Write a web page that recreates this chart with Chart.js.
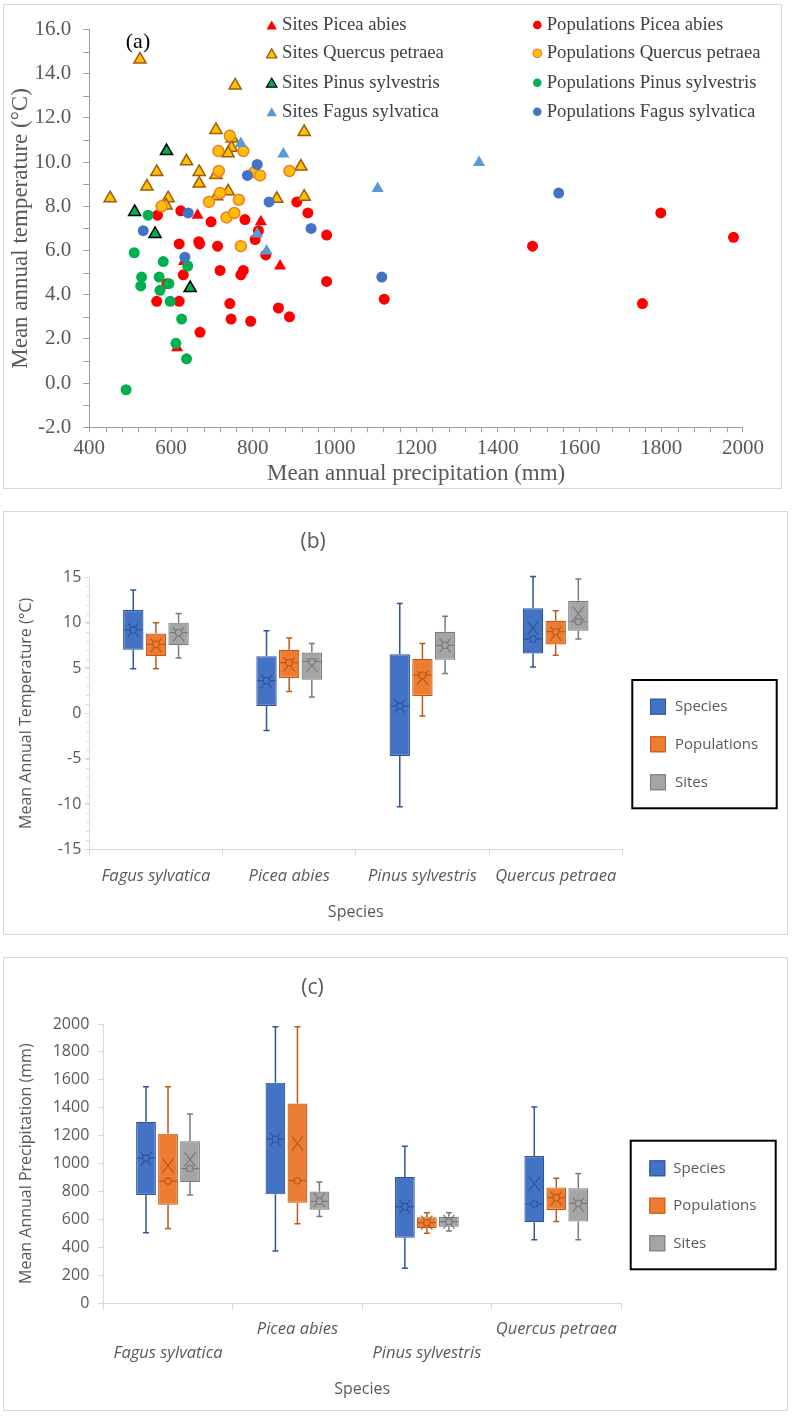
<!DOCTYPE html>
<html><head><meta charset="utf-8">
<script src="https://cdn.jsdelivr.net/npm/chart.js@4.4.1/dist/chart.umd.min.js"></script>
<style>
html,body{margin:0;padding:0;background:#fff;}
body{width:796px;height:1419px;position:relative;overflow:hidden;}
.frame{position:absolute;border:1px solid #d9d9d9;box-sizing:border-box;background:#fff;}
canvas{display:block;}
</style></head><body>
<div class="frame" style="left:3px;top:4px;width:779px;height:485px;"><canvas id="ca" width="777" height="483" style="width:777px;height:483px"></canvas></div>
<div class="frame" style="left:3px;top:511px;width:785px;height:424px;"><canvas id="cb" width="783" height="422" style="width:783px;height:422px"></canvas></div>
<div class="frame" style="left:3px;top:957px;width:785px;height:454px;"><canvas id="cc" width="783" height="452" style="width:783px;height:452px"></canvas></div>
<script>
// ---------------- DATA: chart (a) scatter ----------------
const sitesPiceaP = [665, 820, 867, 615, 632];
const sitesPiceaT = [7.6, 7.3, 5.3, 1.6, 5.5];
const popPiceaP = [567, 624, 698, 781, 908, 935, 981, 620, 668, 670, 714, 806, 814, 832, 720, 777, 771, 630, 565, 620, 744, 747, 795, 863, 890, 671, 981, 1122, 590, 1485, 1799, 1977, 1754];
const popPiceaT = [7.6, 7.8, 7.3, 7.4, 8.2, 7.7, 6.7, 6.3, 6.4, 6.3, 6.2, 6.5, 6.9, 5.8, 5.1, 5.1, 4.9, 4.9, 3.7, 3.7, 3.6, 2.9, 2.8, 3.4, 3.0, 2.3, 4.6, 3.8, 4.5, 6.2, 7.7, 6.6, 3.6];
const sitesQuercusP = [524, 757, 710, 926, 750, 748, 740, 638, 565, 669, 710, 918, 541, 669, 712, 740, 859, 926, 451, 593, 588];
const sitesQuercusT = [14.65, 13.47, 11.46, 11.37, 11.07, 10.65, 10.4, 10.04, 9.56, 9.56, 9.42, 9.8, 8.9, 9.03, 8.46, 8.68, 8.34, 8.44, 8.37, 8.37, 8.04];
const popQuercusP = [744, 716, 777, 717, 804, 818, 890, 720, 693, 766, 577, 736, 755, 771];
const popQuercusT = [11.2, 10.5, 10.5, 9.6, 9.55, 9.4, 9.6, 8.6, 8.2, 8.3, 8.0, 7.5, 7.7, 6.2];
const sitesPinusP = [589, 511, 561, 647];
const sitesPinusT = [10.5, 7.75, 6.75, 4.3];
const popPinusP = [544, 510, 581, 641, 528, 571, 526, 595, 573, 598, 626, 612, 638, 490];
const popPinusT = [7.6, 5.9, 5.5, 5.3, 4.8, 4.8, 4.4, 4.5, 4.2, 3.7, 2.9, 1.8, 1.1, -0.3];
const sitesFagusP = [771, 875, 1106, 1354, 811, 834];
const sitesFagusT = [10.85, 10.37, 8.81, 9.99, 6.75, 5.98];
const popFagusP = [532, 642, 787, 811, 840, 943, 634, 1116, 1549];
const popFagusT = [6.9, 7.7, 9.4, 9.9, 8.2, 7.0, 5.7, 4.8, 8.6];

// ---------------- DATA: charts (b) and (c) box plots ----------------
const speciesNames = ['Fagus sylvatica', 'Picea abies', 'Pinus sylvestris', 'Quercus petraea'];
const groupNames = ['Species', 'Populations', 'Sites'];

// (b) Mean annual temperature
const tempSpeciesMin  = [4.9, -1.9, -10.3, 5.1];
const tempSpeciesQ1   = [7.0, 0.8, -4.7, 6.6];
const tempSpeciesMed  = [9.2, 3.6, 0.8, 8.2];
const tempSpeciesQ3   = [11.4, 6.3, 6.5, 11.6];
const tempSpeciesMax  = [13.6, 9.1, 12.1, 15.1];
const tempSpeciesMean = [9.2, 3.5, 0.8, 9.4];
const tempPopMin  = [4.9, 2.4, -0.3, 6.4];
const tempPopQ1   = [6.3, 3.9, 1.9, 7.6];
const tempPopMed  = [7.6, 5.6, 4.2, 9.0];
const tempPopQ3   = [8.8, 7.0, 6.0, 10.2];
const tempPopMax  = [10.0, 8.3, 7.7, 11.3];
const tempPopMean = [7.5, 5.4, 3.9, 8.8];
const tempSitesMin  = [6.1, 1.8, 4.4, 8.2];
const tempSitesQ1   = [7.5, 3.7, 5.9, 9.1];
const tempSitesMed  = [8.9, 5.7, 7.5, 10.1];
const tempSitesQ3   = [10.0, 6.7, 9.0, 12.4];
const tempSitesMax  = [11.0, 7.7, 10.7, 14.8];
const tempSitesMean = [8.7, 5.3, 7.5, 11.0];

// (c) Mean annual precipitation
const precSpeciesMin  = [505, 375, 251, 455];
const precSpeciesQ1   = [776, 780, 470, 580];
const precSpeciesMed  = [1040, 1175, 692, 711];
const precSpeciesQ3   = [1300, 1580, 905, 1055];
const precSpeciesMax  = [1550, 1980, 1125, 1405];
const precSpeciesMean = [1035, 1175, 690, 855];
const precPopMin  = [535, 570, 501, 585];
const precPopQ1   = [705, 720, 537, 668];
const precPopMed  = [875, 878, 578, 757];
const precPopQ3   = [1215, 1430, 616, 830];
const precPopMax  = [1550, 1980, 649, 895];
const precPopMean = [985, 1145, 578, 750];
const precSitesMin  = [775, 622, 518, 455];
const precSitesQ1   = [868, 670, 549, 585];
const precSitesMed  = [965, 730, 585, 716];
const precSitesQ3   = [1160, 800, 620, 823];
const precSitesMax  = [1355, 868, 649, 930];
const precSitesMean = [1030, 740, 585, 705];

// ---------------- STYLES ----------------
const SERIF = "'Liberation Serif','Times New Roman',serif";
const SANS = "'Open Sans','Noto Sans',sans-serif";
const TXT = '#595959';
const groupFill = ['#4472C4', '#ED7D31', '#A5A5A5'];
const groupDark = ['#2F5597', '#C0581A', '#7B7B7B'];

function marker(ctx, style, x, y, r, fill, stroke, lw) {
  ctx.save();
  ctx.fillStyle = fill; ctx.strokeStyle = stroke; ctx.lineWidth = lw;
  ctx.beginPath();
  if (style === 'triangle') {
    for (let k = 0; k < 3; k++) {
      const a = k * 2 * Math.PI / 3;
      const px = x + Math.sin(a) * r, py = y - Math.cos(a) * r;
      if (k) ctx.lineTo(px, py); else ctx.moveTo(px, py);
    }
    ctx.closePath();
  } else {
    ctx.arc(x, y, r, 0, Math.PI * 2);
  }
  ctx.fill();
  if (lw > 0) ctx.stroke();
  ctx.restore();
}

// ---------------- CHART (a) ----------------
const scatterSeries = [
  {label: 'Sites Picea abies', P: sitesPiceaP, T: sitesPiceaT, style: 'triangle', r: 7, fill: '#FF0000', stroke: '#FF0000', bw: 0},
  {label: 'Populations Picea abies', P: popPiceaP, T: popPiceaT, style: 'circle', r: 5.5, fill: '#FF0000', stroke: '#FF0000', bw: 0},
  {label: 'Sites Quercus petraea', P: sitesQuercusP, T: sitesQuercusT, style: 'triangle', r: 7, fill: '#FFC000', stroke: '#9E5A0A', bw: 1.5},
  {label: 'Populations Quercus petraea', P: popQuercusP, T: popQuercusT, style: 'circle', r: 5.5, fill: '#FFC000', stroke: '#ED7D31', bw: 1.5},
  {label: 'Sites Pinus sylvestris', P: sitesPinusP, T: sitesPinusT, style: 'triangle', r: 7, fill: '#00B050', stroke: '#000000', bw: 1.5},
  {label: 'Populations Pinus sylvestris', P: popPinusP, T: popPinusT, style: 'circle', r: 5.5, fill: '#00B050', stroke: '#00B050', bw: 0},
  {label: 'Sites Fagus sylvatica', P: sitesFagusP, T: sitesFagusT, style: 'triangle', r: 7, fill: '#5B9BD5', stroke: '#5B9BD5', bw: 0},
  {label: 'Populations Fagus sylvatica', P: popFagusP, T: popFagusT, style: 'circle', r: 5.5, fill: '#4472C4', stroke: '#4472C4', bw: 0}
];

const scatterExtras = {
  id: 'scatterExtras',
  beforeDatasetsDraw(chart) {
    const ctx = chart.ctx;
    ctx.save();
    ctx.font = '22px ' + SERIF; ctx.fillStyle = '#000';
    ctx.textAlign = 'center'; ctx.textBaseline = 'middle';
    ctx.fillText('(a)', 134, 37);
    ctx.restore();
  },
  afterDraw(chart) {
    const ctx = chart.ctx, x = chart.scales.x, y = chart.scales.y;
    ctx.save();
    ctx.strokeStyle = '#9e9e9e'; ctx.lineWidth = 1;
    ctx.beginPath();
    for (let v = 400; v <= 2000; v += 40) {
      if (v % 200 === 0) continue;
      const px = Math.round(x.getPixelForValue(v)) + 0.5;
      ctx.moveTo(px, y.bottom); ctx.lineTo(px, y.bottom + 5);
    }
    for (let v = -1; v < 16; v += 2) {
      const py = Math.round(y.getPixelForValue(v)) + 0.5;
      ctx.moveTo(x.left - 6, py); ctx.lineTo(x.left, py);
    }
    ctx.stroke();
    // legend
    const rowsY = [20, 48.3, 77.7, 106.7];
    ctx.font = '18.7px ' + SERIF; ctx.fillStyle = '#404040';
    ctx.textAlign = 'left'; ctx.textBaseline = 'middle';
    scatterSeries.forEach((s, i) => {
      const col = i % 2, row = Math.floor(i / 2);
      const mx = col ? 533.3 : 267.7, tx = col ? 542.7 : 278;
      const yy = rowsY[row];
      if (s.style === 'triangle') marker(ctx, 'triangle', mx, yy + 1.5, 6, s.fill, s.stroke, s.bw ? 1.3 : 0);
      else marker(ctx, 'circle', mx, yy, 4.3, s.fill, s.stroke, s.bw ? 1.2 : 0);
      ctx.fillStyle = '#404040';
      ctx.fillText(s.label, tx, yy);
    });
    ctx.restore();
  }
};

new Chart(document.getElementById('ca'), {
  type: 'scatter',
  data: {
    datasets: scatterSeries.map((s, i) => ({
      label: s.label,
      data: s.P.map((p, k) => ({x: p, y: s.T[k]})),
      pointStyle: s.style, pointRadius: s.r, pointHoverRadius: s.r,
      backgroundColor: s.fill, borderColor: s.stroke, borderWidth: s.bw,
      order: scatterSeries.length - i
    }))
  },
  options: {
    responsive: false, animation: false,
    layout: {padding: {top: 15, right: 38.1, left: 0, bottom: 0}},
    plugins: {legend: {display: false}, tooltip: {enabled: false}},
    scales: {
      x: {
        type: 'linear', min: 400, max: 2000,
        afterFit(s) { s.height = 60.7; },
        ticks: {stepSize: 200, callback: v => String(v), font: {family: SERIF, size: 21}, color: TXT, padding: 4, maxRotation: 0, autoSkip: false},
        grid: {drawOnChartArea: false, tickLength: 5, color: '#9e9e9e'},
        border: {color: '#9e9e9e'},
        title: {display: true, text: 'Mean annual precipitation (mm)', font: {family: SERIF, size: 23, lineHeight: 1}, color: TXT, padding: {top: 0, bottom: 3}}
      },
      y: {
        type: 'linear', min: -2, max: 16,
        afterFit(s) { s.width = 85.3; },
        ticks: {stepSize: 2, callback: v => Number(v).toFixed(1), font: {family: SERIF, size: 21}, color: TXT, padding: 12},
        grid: {drawOnChartArea: false, tickLength: 6, color: '#9e9e9e'},
        border: {color: '#9e9e9e'},
        title: {display: true, text: 'Mean annual temperature (°C)', font: {family: SERIF, size: 23, lineHeight: 1}, color: TXT, padding: {top: 5, bottom: 0}}
      }
    }
  },
  plugins: [scatterExtras]
});

// ---------------- CHARTS (b) and (c) ----------------
const boxExtras = {
  id: 'boxExtras',
  afterDatasetsDraw(chart) {
    const ctx = chart.ctx, y = chart.scales.y;
    chart.data.datasets.forEach((ds, i) => {
      const meta = chart.getDatasetMeta(i);
      const st = ds.stats;
      meta.data.forEach((el, j) => {
        const x = el.x, w = el.width;
        const pMin = y.getPixelForValue(st.min[j]), pMax = y.getPixelForValue(st.max[j]);
        const pQ1 = y.getPixelForValue(st.q1[j]), pQ3 = y.getPixelForValue(st.q3[j]);
        const pMed = y.getPixelForValue(st.med[j]), pMean = y.getPixelForValue(st.mean[j]);
        ctx.save();
        ctx.strokeStyle = ds.borderColor; ctx.lineWidth = 1.5;
        ctx.beginPath();
        ctx.moveTo(x, pQ3); ctx.lineTo(x, pMax);
        ctx.moveTo(x - 3, pMax); ctx.lineTo(x + 3, pMax);
        ctx.moveTo(x, pQ1); ctx.lineTo(x, pMin);
        ctx.moveTo(x - 3, pMin); ctx.lineTo(x + 3, pMin);
        ctx.stroke();
        ctx.lineWidth = 1.2;
        ctx.beginPath();
        ctx.moveTo(x - w / 2 + 1, pMed); ctx.lineTo(x + w / 2 - 1, pMed);
        ctx.moveTo(x - 5.5, pMean - 7); ctx.lineTo(x + 5.5, pMean + 7);
        ctx.moveTo(x - 5.5, pMean + 7); ctx.lineTo(x + 5.5, pMean - 7);
        ctx.stroke();
        ctx.beginPath();
        ctx.arc(x, pMed, 3.2, 0, Math.PI * 2);
        ctx.fillStyle = ds.backgroundColor; ctx.fill(); ctx.stroke();
        ctx.restore();
      });
    });
  },
  afterDraw(chart, args, opts) {
    const ctx = chart.ctx, x = chart.scales.x, y = chart.scales.y;
    ctx.save();
    if (opts.minorStep) {
      ctx.strokeStyle = '#d9d9d9'; ctx.lineWidth = 1;
      ctx.beginPath();
      for (let v = y.min; v <= y.max; v += opts.minorStep) {
        const py = Math.round(y.getPixelForValue(v)) + 0.5;
        ctx.moveTo(x.left - 3, py); ctx.lineTo(x.left, py);
      }
      ctx.stroke();
    }
    const L = opts.legend;
    ctx.strokeStyle = '#000'; ctx.lineWidth = 2;
    ctx.strokeRect(L.x0, L.y0, L.x1 - L.x0, L.y1 - L.y0);
    ctx.font = '15px ' + SANS; ctx.textAlign = 'left'; ctx.textBaseline = 'middle';
    chart.data.datasets.forEach((ds, i) => {
      const cy = L.rows[i];
      ctx.fillStyle = ds.backgroundColor;
      ctx.fillRect(L.sx, cy - 8, 16, 16);
      ctx.strokeStyle = ds.borderColor; ctx.lineWidth = 1;
      ctx.strokeRect(L.sx + 0.5, cy - 7.5, 15, 15);
      ctx.fillStyle = TXT;
      ctx.fillText(ds.label, L.tx, cy);
    });
    ctx.restore();
  }
};

function makeBoxChart(id, labels, stats, g) {
  return new Chart(document.getElementById(id), {
    type: 'bar',
    data: {
      labels: labels,
      datasets: groupNames.map((name, i) => ({
        label: name,
        data: stats[i].q1.map((v, j) => [v, stats[i].q3[j]]),
        stats: stats[i],
        backgroundColor: groupFill[i], borderColor: groupDark[i],
        borderWidth: 1.2, borderSkipped: false,
        categoryPercentage: 0.51, barPercentage: 0.9
      }))
    },
    options: {
      responsive: false, animation: false,
      layout: {padding: {top: 0, right: g.padRight, left: 0, bottom: 0}},
      plugins: {
        legend: {display: false}, tooltip: {enabled: false},
        title: {display: true, text: g.title, color: TXT, font: {family: SANS, size: 21, weight: 'normal', lineHeight: 1.2}, padding: {top: g.titleTop, bottom: g.titleBottom}},
        boxExtras: {legend: g.legend, minorStep: g.minorStep}
      },
      scales: {
        x: {
          afterFit(s) { s.height = g.xHeight; },
          ticks: {font: {family: SANS, size: 16.5, style: 'italic', lineHeight: g.labelLH}, color: TXT, padding: g.xPad, maxRotation: 0, autoSkip: false},
          grid: {offset: true, drawOnChartArea: false, tickLength: 6, color: '#d9d9d9'},
          border: {color: '#d9d9d9'},
          title: {display: true, text: 'Species', color: TXT, font: {family: SANS, size: 16, lineHeight: 1.2}, padding: {top: 0, bottom: g.xTitlePad}}
        },
        y: {
          min: g.min, max: g.max,
          afterFit(s) { s.width = g.yWidth; },
          ticks: {stepSize: g.step, callback: v => String(v), font: {family: SANS, size: 16}, color: TXT, padding: g.yPad},
          grid: {drawOnChartArea: false, tickLength: 5, color: '#d9d9d9'},
          border: {color: '#d9d9d9'},
          title: {display: true, text: g.yTitle, color: TXT, font: {family: SANS, size: 16, lineHeight: 1.2}, padding: {top: 13.1, bottom: 0}}
        }
      }
    },
    plugins: [boxExtras]
  });
}

const tempStats = [
  {min: tempSpeciesMin, q1: tempSpeciesQ1, med: tempSpeciesMed, q3: tempSpeciesQ3, max: tempSpeciesMax, mean: tempSpeciesMean},
  {min: tempPopMin, q1: tempPopQ1, med: tempPopMed, q3: tempPopQ3, max: tempPopMax, mean: tempPopMean},
  {min: tempSitesMin, q1: tempSitesQ1, med: tempSitesMed, q3: tempSitesQ3, max: tempSitesMax, mean: tempSitesMean}
];
const precStats = [
  {min: precSpeciesMin, q1: precSpeciesQ1, med: precSpeciesMed, q3: precSpeciesQ3, max: precSpeciesMax, mean: precSpeciesMean},
  {min: precPopMin, q1: precPopQ1, med: precPopMed, q3: precPopQ3, max: precPopMax, mean: precPopMean},
  {min: precSitesMin, q1: precSitesQ1, med: precSitesMed, q3: precSitesQ3, max: precSitesMax, mean: precSitesMean}
];

makeBoxChart('cb', speciesNames, tempStats, {
  title: '(b)', titleTop: 17.1, titleBottom: 23,
  padRight: 164.7, xHeight: 84.7, xPad: 10.8, labelLH: 1.2, xTitlePad: 12.4,
  yWidth: 85.3, yPad: 3, min: -15, max: 15, step: 5, minorStep: 1,
  yTitle: 'Mean Annual Temperature (°C)',
  legend: {x0: 628.3, y0: 168, x1: 772.7, y1: 296.3, sx: 646, tx: 671, rows: [194.7, 232.3, 270.3]}
});

makeBoxChart('cc', speciesNames.map((n, i) => i % 2 === 0 ? ['', n] : [n, '']), precStats, {
  title: '(c)', titleTop: 17.4, titleBottom: 23.4,
  padRight: 166, xHeight: 106.7, xPad: 8.2, labelLH: 1.4375, xTitlePad: 11.4,
  yWidth: 99.3, yPad: 9, min: 0, max: 2000, step: 200, minorStep: 0,
  yTitle: 'Mean Annual Precipitation (mm)',
  legend: {x0: 626.7, y0: 182.7, x1: 771.7, y1: 311.3, sx: 645.3, tx: 669.3, rows: [210.3, 247.7, 285.3]}
});
</script>
</body></html>
